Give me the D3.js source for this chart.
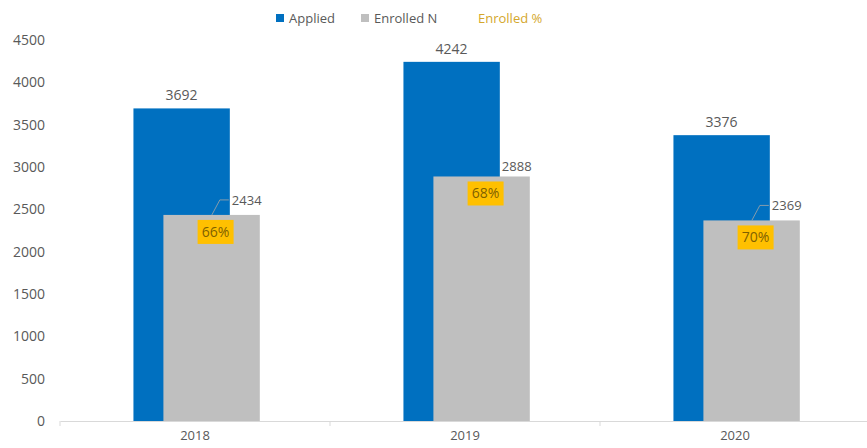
<!DOCTYPE html>
<html>
<head>
<meta charset="utf-8">
<script src="https://cdn.jsdelivr.net/npm/d3@7"></script>
<style>
    body { margin: 0; background: #fff; font-family: "Open Sans", sans-serif; }
    text { fill: #595959; }
</style>
</head>
<body>
<div id="chart"></div>
<script>
const years = ['2018', '2019', '2020'];
const applied = [3692, 4242, 3376];
const enrolled = [2434, 2888, 2369];
const enrolledPct = [66, 68, 70];
const yTicks = [0, 500, 1000, 1500, 2000, 2500, 3000, 3500, 4000, 4500];

const width = 867, height = 448;
const margin = { top: 40, right: -3, bottom: 27, left: 60 };

const svg = d3.select('#chart').append('svg')
    .attr('width', width)
    .attr('height', height);

const x = d3.scaleBand().domain(years).range([margin.left, width - margin.right]);
const y = d3.scaleLinear().domain([0, 4500]).range([height - margin.bottom, margin.top]);
const bw = x.bandwidth();

// y axis labels only, no line or grid
svg.append('g')
    .attr('transform', `translate(${margin.left - 15},0)`)
    .call(d3.axisLeft(y).tickValues(yTicks).tickFormat(d3.format('d')).tickSize(0).tickPadding(0))
    .call(g => g.select('.domain').remove())
    .selectAll('text')
    .style('font-size', '14px')
    .style('font-family', '"Open Sans", sans-serif')
    .attr('fill', '#595959');

// x axis
const xAxis = svg.append('g')
    .attr('transform', `translate(0,${y(0)})`)
    .call(d3.axisBottom(x).tickSize(0).tickPadding(10));
xAxis.select('.domain').attr('stroke', '#d9d9d9');
xAxis.selectAll('text')
    .style('font-size', '13px')
    .style('font-family', '"Open Sans", sans-serif')
    .attr('fill', '#595959');
// category boundary ticks
xAxis.selectAll('.bound')
    .data([years[0], ...years].map((d, i) => i === 0 ? x(d) : x(d) + bw))
    .enter().append('line')
    .attr('x1', d => d).attr('x2', d => d)
    .attr('y1', 0).attr('y2', 5)
    .attr('stroke', '#d9d9d9');

const blueX = d => x(d) + bw * 0.272;
const grayX = d => x(d) + bw * 0.383;
const barW = bw * 0.357;

svg.selectAll('.applied')
    .data(years)
    .enter().append('rect')
    .attr('class', 'applied')
    .attr('x', d => blueX(d))
    .attr('y', (d, i) => y(applied[i]))
    .attr('width', barW)
    .attr('height', (d, i) => y(0) - y(applied[i]))
    .attr('fill', '#0070c0');

svg.selectAll('.enrolled')
    .data(years)
    .enter().append('rect')
    .attr('class', 'enrolled')
    .attr('x', d => grayX(d))
    .attr('y', (d, i) => y(enrolled[i]))
    .attr('width', barW)
    .attr('height', (d, i) => y(0) - y(enrolled[i]))
    .attr('fill', '#bfbfbf');

// applied labels
svg.selectAll('.appliedLabel')
    .data(years)
    .enter().append('text')
    .attr('x', d => blueX(d) + barW / 2)
    .attr('y', (d, i) => y(applied[i]) - 8)
    .attr('text-anchor', 'middle')
    .style('font-size', '14px')
    .text((d, i) => applied[i]);

// enrolled labels, moved up-right with a leader line where they sit away from the bar
years.forEach((d, i) => {
    const top = y(enrolled[i]);
    const edge = blueX(d) + barW;
    const lift = i === 1 ? 10 : 15;
    if (i !== 1) {
        svg.append('path')
            .attr('d', `M${edge - 18},${top} L${edge - 10},${top - lift} L${edge - 1},${top - lift}`)
            .attr('fill', 'none')
            .attr('stroke', '#a6a6a6')
            .attr('stroke-width', 0.8);
    }
    svg.append('text')
        .attr('x', edge + 2)
        .attr('y', top - lift + 5)
        .style('font-size', '13px')
        .text(enrolled[i]);
});

// enrolled % boxes
const pct = svg.selectAll('.pct')
    .data(years)
    .enter().append('g')
    .attr('class', 'pct')
    .attr('transform', (d, i) => `translate(${grayX(d) + barW / 2 + 4},${y(enrolled[i]) + 17})`);
pct.append('rect')
    .attr('x', -18).attr('y', -12)
    .attr('width', 36).attr('height', 24)
    .attr('fill', '#ffc000');
pct.append('text')
    .attr('text-anchor', 'middle')
    .attr('dy', '0.35em')
    .style('font-size', '14px')
    .style('fill', '#7f6000')
    .text((d, i) => enrolledPct[i] + '%');

// legend
const legendItems = [
    { name: 'Applied', color: '#0070c0', x: 276, textColor: '#595959' },
    { name: 'Enrolled N', color: '#bfbfbf', x: 361, textColor: '#595959' },
    { name: 'Enrolled %', color: null, x: 465, textColor: '#d4a72c' }
];
const legend = svg.selectAll('.legend')
    .data(legendItems)
    .enter().append('g')
    .attr('class', 'legend')
    .attr('transform', d => `translate(${d.x},18)`);
legend.filter(d => d.color).append('rect')
    .attr('x', 0).attr('y', -4)
    .attr('width', 8).attr('height', 8)
    .attr('fill', d => d.color);
legend.append('text')
    .attr('x', 13)
    .attr('dy', '0.35em')
    .style('font-size', '13px')
    .style('fill', d => d.textColor)
    .text(d => d.name);
</script>
</body>
</html>
